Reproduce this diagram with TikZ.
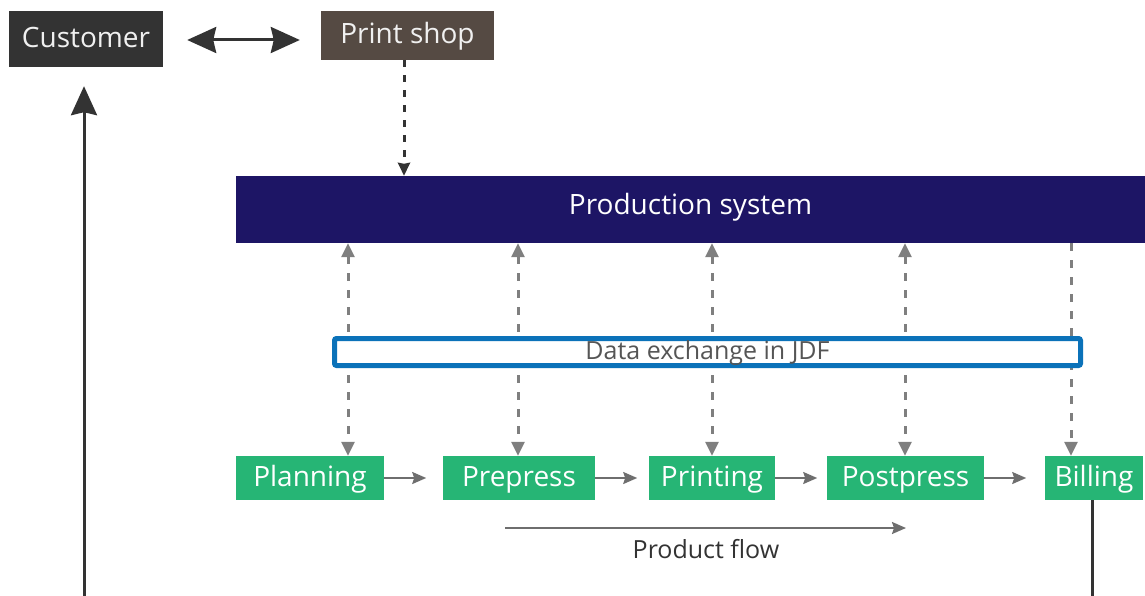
\documentclass[tikz,border=0pt]{standalone}
\usepackage{fontspec}
\setmainfont{Open Sans}[Ligatures=NoCommon]
\usetikzlibrary{arrows.meta}

\definecolor{custgray}{HTML}{333333}
\definecolor{shopbrown}{HTML}{554A43}
\definecolor{prodblue}{HTML}{1D1565}
\definecolor{stagegreen}{HTML}{26B575}
\definecolor{jdfblue}{HTML}{0B72B9}
\definecolor{linegray}{HTML}{7F7F7F}
\definecolor{flowgray}{HTML}{6E6E6E}
\definecolor{textgray}{HTML}{555555}

\tikzset{
  box/.style={inner sep=0pt, text height=20pt, text depth=3pt, font=\fontsize{28}{32}\selectfont},
  topbox/.style={box, text=white!94!black},
  stage/.style={box, fill=stagegreen, text=white, minimum height=44pt},
  darkline/.style={draw=custgray, line width=3pt},
  bighead/.tip={Stealth[length=29pt,width=26pt,inset=3pt]},
  jdfline/.style={draw=linegray, line width=3pt, dash pattern=on 8pt off 9pt},
  smallhead/.tip={Triangle[length=14pt,width=13pt]},
  flow/.style={draw=flowgray, line width=2pt, -{Stealth[length=14pt,width=12pt,inset=2pt]}}
}

\begin{document}
\begin{tikzpicture}[x=1pt,y=-1pt]
\useasboundingbox (0,0) rectangle (1145,596);

\node[topbox, fill=custgray, minimum width=154pt, minimum height=56pt] (cust) at (86,39) {Customer};
\node[topbox, fill=shopbrown, minimum width=173pt, minimum height=49pt] (shop) at (407.5,35.5) {Print shop};
\node[box, fill=prodblue, text=white, text depth=10pt, minimum width=909pt, minimum height=67pt] (prod) at (690.5,209.5) {Production system};

% stages
\node[stage, minimum width=148pt] (plan) at (310,478) {Planning};
\node[stage, minimum width=152pt] (pre) at (519,478) {Prepress};
\node[stage, minimum width=126pt] (print) at (712,478) {Printing};
\node[stage, minimum width=157pt] (post) at (905.5,478) {Postpress};
\node[stage, minimum width=98pt] (bill) at (1094,478) {Billing};

\coordinate (custin) at (84,596);
\coordinate (billout) at (1092,596);
\coordinate (flowstart) at (505,528);
\coordinate (flowend) at (906,528);

\draw[darkline, bighead-bighead, shorten <=24pt, shorten >=21pt] (cust.east |- 0,40) -- (shop.west |- 0,40);
\draw[darkline, dash pattern=on 7pt off 8pt, -{Triangle[length=13pt,width=12pt,inset=1pt]}] (404,0 |- shop.south) -- (404,0 |- prod.north);
\draw[darkline, -bighead, shorten >=19pt] (custin) -- (custin |- cust.south);
\draw[darkline] (billout |- bill.south) -- (billout);

\foreach \x/\n in {348/plan,518/pre,712/print,905/post}
  \draw[jdfline, smallhead-smallhead] (\x,0 |- prod.south) -- (\x,0 |- \n.north);
\draw[jdfline, -smallhead] (1071,0 |- prod.south) -- (1071,0 |- bill.north);

\node[draw=jdfblue, line width=5pt, fill=white, rounded corners=2pt, inner sep=0pt,
  minimum width=746pt, minimum height=27pt, text=textgray, text height=18pt, text depth=3pt,
  font=\fontsize{25}{29}\selectfont] (jdf) at (707.5,352) {Data exchange in JDF};

\foreach \a in {plan,pre,print,post}
  \draw[flow] (\a.east) -- ++(42,0);

\draw[flow] (flowstart) -- (flowend);
\node[text=custgray, inner sep=0pt, font=\fontsize{25}{29}\selectfont] (flowlabel) at (706,549) {Product flow};
\end{tikzpicture}
\end{document}
